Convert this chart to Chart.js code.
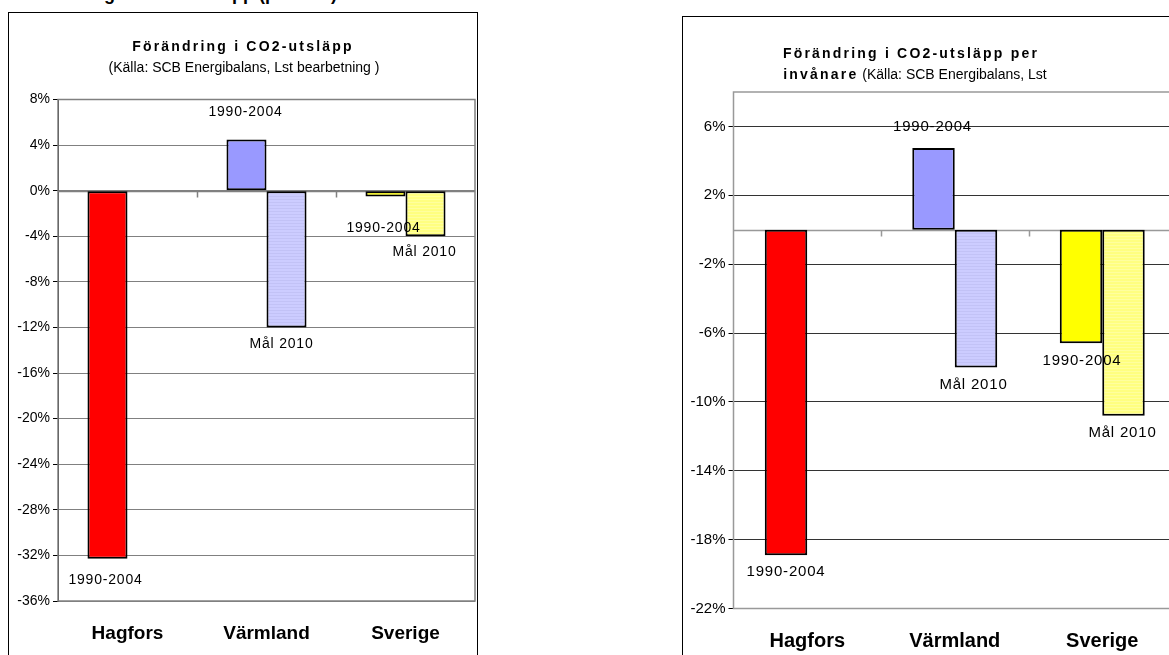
<!DOCTYPE html>
<html lang="sv">
<head>
<meta charset="utf-8">
<title>Förändring i CO2-utsläpp</title>
<script src="https://cdn.jsdelivr.net/npm/chart.js@4"></script>
<style>
  html, body { margin: 0; padding: 0; background: #fff; }
  body { position: relative; width: 1169px; height: 655px; overflow: hidden;
         font-family: 'Liberation Sans', Arial, sans-serif; color: #000; }
  .box { position: absolute; border: 1px solid #000; background: #fff; }
  #boxLeft { left: 8px; top: 12px; width: 468px; height: 700px; }
  #boxRight { left: 682px; top: 16px; width: 560px; height: 700px; }
  canvas { position: absolute; }
  #cLeft { left: 9px; top: 13px; }
  #cRight { left: 683px; top: 17px; }
  .t { position: absolute; white-space: nowrap; transform: translate(-50%, -50%); font-size: 14px; }
  .b { font-weight: bold; letter-spacing: 2.2px; }
  #cut { position: absolute; left: 20px; top: -16px; white-space: nowrap; font-weight: bold; font-size: 18px; }
</style>
</head>
<body>
<div id="cut">Förändringar i CO2-utsläpp (procent)</div>
<div class="box" id="boxLeft"></div>
<div class="box" id="boxRight"></div>
<canvas id="cLeft" width="467" height="642"></canvas>
<canvas id="cRight" width="520" height="638"></canvas>
<div class="t b" style="left:243px; top:46px;">Förändring i CO2-utsläpp</div>
<div class="t" style="left:244px; top:67px;">(Källa: SCB Energibalans, Lst bearbetning )</div>
<div class="t b" style="left:911px; top:53px;">Förändring i CO2-utsläpp per</div>
<div class="t" style="left:915px; top:74px;"><span class="b">invånare</span> (Källa: SCB Energibalans, Lst</div>
<script>
const categories = ['Hagfors', 'Värmland', 'Sverige'];
const seriesNames = ['1990-2004', 'Mål 2010'];

// Förändring i CO2-utsläpp (%)
const totalChange = [-32.3, 4.5, -0.5];
const totalGoal = [null, -12, -4];
const totalTicks = [8, 4, 0, -4, -8, -12, -16, -20, -24, -28, -32, -36];

// Förändring i CO2-utsläpp per invånare (%)
const perCapitaChange = [-18.9, 4.75, -6.6];
const perCapitaGoal = [null, -8, -10.8];
const perCapitaTicks = [6, 2, -2, -6, -10, -14, -18, -22];
const perCapitaRange = [-22, 8];

const changeColors = ['#ff0000', '#9999ff', '#ffff00'];
const goalColors = ['#ffffff', '#ccccff', '#ffff80'];
const goalStripes = ['#ffffff', '#c2c2f6', '#ffff9e'];

const FONT = "'Liberation Sans', Arial, sans-serif";

// light horizontal stripes, like the Excel fill
function stripes(base, line) {
    var c = document.createElement('canvas');
    c.width = 4; c.height = 3;
    var x = c.getContext('2d');
    x.fillStyle = base; x.fillRect(0, 0, 4, 3);
    x.fillStyle = line; x.fillRect(0, 0, 4, 1);
    return x.createPattern(c, 'repeat');
}

// plot frame + zero axis with tick marks between categories
var framePlugin = {
    id: 'frame',
    beforeDatasetsDraw: function (chart, args, o) {
        var ctx = chart.ctx, a = chart.chartArea;
        var xs = chart.scales.x, ys = chart.scales.y;
        ctx.save();
        ctx.strokeStyle = o.color;
        ctx.lineWidth = o.width;
        ctx.strokeRect(a.left, a.top, a.right - a.left, a.bottom - a.top);
        var y0 = Math.round(ys.getPixelForValue(0)) + 0.5;
        ctx.beginPath();
        ctx.moveTo(a.left, y0);
        ctx.lineTo(a.right, y0);
        for (var i = 1; i < categories.length; i++) {
            var xb = Math.round((xs.getPixelForValue(i - 1) + xs.getPixelForValue(i)) / 2) + 0.5;
            ctx.moveTo(xb, y0);
            ctx.lineTo(xb, y0 + 6);
        }
        ctx.stroke();
        ctx.restore();
    }
};

// series name written next to each bar end
var labelPlugin = {
    id: 'barLabels',
    afterDatasetsDraw: function (chart, args, o) {
        var ctx = chart.ctx;
        ctx.save();
        ctx.font = o.font;
        ctx.fillStyle = '#000';
        ctx.textAlign = 'center';
        ctx.textBaseline = 'middle';
        ctx.letterSpacing = o.spacing;
        chart.data.datasets.forEach(function (ds, di) {
            chart.getDatasetMeta(di).data.forEach(function (bar, i) {
                if (ds.data[i] === null) return;
                var s = o.shift[di][i];
                ctx.fillText(ds.label, bar.x + s[0], bar.y + s[1]);
            });
        });
        ctx.restore();
    }
};

function makeChart(id, change, goal, ticks, min, max, o) {
    var ctx = document.getElementById(id).getContext('2d');
    return new Chart(ctx, {
        type: 'bar',
        data: {
            labels: categories,
            datasets: [{
                label: seriesNames[0],
                data: change,
                backgroundColor: changeColors,
                borderColor: '#000',
                borderWidth: 2,
                borderSkipped: false
            }, {
                label: seriesNames[1],
                data: goal,
                backgroundColor: goalColors.map(function (c, i) { return stripes(c, goalStripes[i]); }),
                borderColor: '#000',
                borderWidth: 2,
                borderSkipped: false
            }]
        },
        options: {
            responsive: false,
            animation: false,
            layout: { padding: o.pad },
            datasets: { bar: { categoryPercentage: 0.576, barPercentage: 1 } },
            plugins: {
                legend: { display: false },
                tooltip: { enabled: false },
                frame: { color: o.frameColor, width: 1.5 },
                barLabels: { font: o.labelSize + 'px ' + FONT, spacing: '0.8px', shift: o.shift }
            },
            scales: {
                x: {
                    grid: { display: false, drawTicks: false },
                    border: { display: false },
                    ticks: {
                        color: '#000',
                        padding: o.catPad,
                        font: { family: FONT, size: o.catSize, weight: 'bold' }
                    },
                    afterFit: function (s) { s.height = o.xHeight; }
                },
                y: {
                    min: min,
                    max: max,
                    afterBuildTicks: function (s) {
                        s.ticks = ticks.map(function (v) { return { value: v }; });
                    },
                    afterFit: function (s) { s.width = o.yWidth; },
                    grid: { color: o.gridColor, lineWidth: 1, tickLength: 5, tickColor: '#000' },
                    border: { color: '#222', width: 1 },
                    ticks: {
                        color: '#000',
                        padding: 3,
                        font: { family: FONT, size: o.tickSize },
                        callback: function (v) { return v + '%'; }
                    }
                }
            }
        },
        plugins: [framePlugin, labelPlugin]
    });
}

makeChart('cLeft', totalChange, totalGoal, totalTicks,
    totalTicks[totalTicks.length - 1], totalTicks[0], {
        pad: { left: 0, top: 86.5, right: 1, bottom: 0 },
        yWidth: 49, xHeight: 54, catPad: 21,
        catSize: 19, tickSize: 14, labelSize: 14,
        gridColor: '#808080', frameColor: '#808080',
        shift: [[[-2, 21], [-1, -27], [-2, 32]], [[0, 0], [-5, 17], [-1, 16]]]
    });

makeChart('cRight', perCapitaChange, perCapitaGoal, perCapitaTicks,
    perCapitaRange[0], perCapitaRange[1], {
        pad: { left: 0, top: 75, right: 27, bottom: 0 },
        yWidth: 50.5, xHeight: 46.5, catPad: 21,
        catSize: 20, tickSize: 15, labelSize: 15,
        gridColor: '#333333', frameColor: '#999999',
        shift: [[[0, 17], [-1, -21], [1, 17.5]], [[0, 0], [-2.5, 17.4], [-1, 17]]]
    });
</script>
</body>
</html>
